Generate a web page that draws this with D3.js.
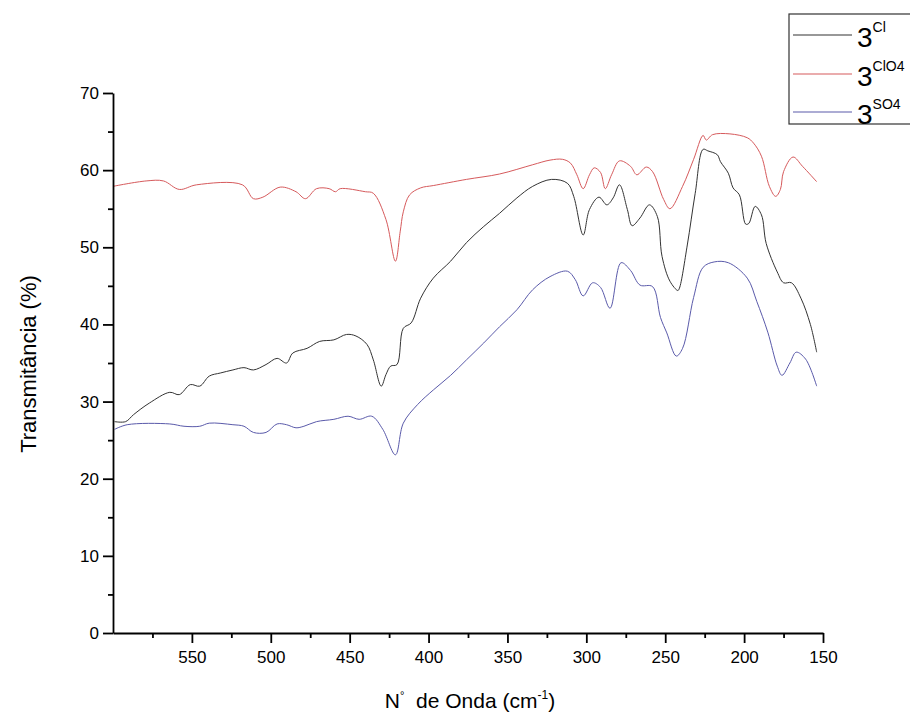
<!DOCTYPE html>
<html>
  <head>
    <meta charset="utf-8">
    <script src="https://d3js.org/d3.v7.min.js"></script>
    <title>Transmitancia</title>
    <style>
      html, body { margin: 0; padding: 0; background: #fff; }
      svg { display: block; font-family: "Liberation Sans", Arial, sans-serif; }
    </style>
  </head>
  <body>
    <svg id="chartSvg" width="910" height="720"></svg>
    <script>
      // series 3Cl (black)
      var clWave = [599,592,587,577,564,558,551,545,539,532,524,517,511,503,496,490,486,477,469,460,452,446,439,435,430,427,424,420,416,411,405,397,386,376,365,355,344,334,322,312,308,302,298,292,287,283,279,274,271,266,260,255,252,247,242,241,236,231,226,223,217,215,210,207,203,199,197,193,189,186,179,175,170,164,158,154];
      var clT    = [27.4,27.4,28.3,29.8,31.2,30.9,32.2,32.0,33.3,33.7,34.1,34.4,34.1,34.8,35.6,35.0,36.3,36.9,37.8,38.0,38.7,38.5,37.4,35.4,32.0,33.5,34.6,34.8,39.5,40.2,43.4,46.0,48.2,50.6,52.7,54.4,56.4,57.9,58.8,58.3,56.6,51.6,54.9,56.5,55.5,56.4,58.1,54.9,52.8,53.8,55.5,54.0,48.8,45.6,44.4,44.7,50.3,57.0,62.7,62.5,62.0,61.1,59.6,57.7,56.8,53.0,53.1,55.3,54.2,50.5,46.8,45.4,45.4,43.4,40.0,36.4];

      // series 3ClO4 (red)
      var clo4Wave = [600,579,568,558,547,518,511,505,494,484,478,471,463,459,456,440,435,427,421,418,416,412,405,397,376,355,334,323,315,310,306,302,298,295,291,288,284,279,272,268,262,258,251,247,239,232,226,224,220,209,198,194,189,184,180,177,175,169,163,154];
      var clo4T    = [57.9,58.6,58.6,57.5,58.1,58.1,56.3,56.5,57.8,57.2,56.3,57.6,57.6,57.2,57.6,57.2,57.0,53.6,48.2,52.0,54.6,56.8,57.7,58.0,58.8,59.5,60.7,61.3,61.4,60.9,59.4,57.6,59.4,60.3,59.7,57.6,59.4,61.2,60.5,59.4,60.4,59.8,56.2,55.0,57.9,61.4,64.5,63.9,64.6,64.7,64.2,63.5,61.8,57.9,56.6,57.5,59.8,61.7,60.5,58.5];

      // series 3SO4 (blue)
      var so4Wave = [599,591,564,555,545,539,524,517,511,503,496,490,484,479,471,460,451,444,436,429,421,416,407,397,386,376,365,355,344,334,323,312,307,302,296,291,285,278,272,266,258,253,249,243,239,232,226,219,210,198,192,185,179,176,171,167,161,154];
      var so4T    = [26.4,27.0,27.1,26.8,26.8,27.2,27.0,26.8,26.0,26.0,27.1,27.0,26.6,26.8,27.4,27.7,28.1,27.7,28.1,26.4,23.1,27.2,29.6,31.5,33.4,35.4,37.6,39.7,41.9,44.5,46.2,46.9,45.8,43.7,45.4,44.8,42.1,48.0,47.0,45.1,44.9,40.9,38.9,35.9,36.9,43.5,47.4,48.1,48.0,46.0,43.0,39.0,34.6,33.4,35.0,36.4,35.5,32.0];

      var seriesNames = ["Cl", "ClO4", "SO4"];
      var seriesColors = ["#333333", "#d65a5c", "#5a5aaa"];
      var xMajor = [550, 500, 450, 400, 350, 300, 250, 200, 150];
      var xMinor = [575, 525, 475, 425, 375, 325, 275, 225, 175];
      var yMajor = [0, 10, 20, 30, 40, 50, 60, 70];
      var yMinor = [5, 15, 25, 35, 45, 55, 65];

      var svg = d3.select("#chartSvg");

      var x = d3.scaleLinear().domain([600, 150]).range([113, 823]);
      var y = d3.scaleLinear().domain([0, 70]).range([633, 93]);

      function zip(w, t) {
        return w.map(function(d, i) { return {w: d, t: t[i]}; });
      }
      var series = [zip(clWave, clT), zip(clo4Wave, clo4T), zip(so4Wave, so4T)];

      var line = d3.line()
        .x(function(d) { return x(d.w); })
        .y(function(d) { return y(d.t); })
        .curve(d3.curveCatmullRom.alpha(0.5));

      svg.selectAll("path.serie")
        .data(series)
        .enter()
        .append("path")
        .attr("class", "serie")
        .attr("d", line)
        .style("fill", "none")
        .style("stroke", function(d, i) { return seriesColors[i]; })
        .style("stroke-width", 1);

      // axes
      svg.append("g").attr("transform", "translate(113,0)")
        .call(d3.axisLeft(y).tickValues(yMajor).tickSize(10).tickSizeOuter(0).tickPadding(4));
      svg.append("g").attr("transform", "translate(113,0)")
        .call(d3.axisLeft(y).tickValues(yMinor).tickSize(5).tickFormat(""))
        .select(".domain").remove();

      svg.append("g").attr("transform", "translate(0,633)")
        .call(d3.axisBottom(x).tickValues(xMajor).tickSize(10).tickSizeOuter(0).tickPadding(8));
      svg.append("g").attr("transform", "translate(0,633)")
        .call(d3.axisBottom(x).tickValues(xMinor).tickSize(5).tickFormat(""))
        .select(".domain").remove();

      svg.selectAll(".domain, .tick line")
        .style("stroke", "#000")
        .style("stroke-width", 1.8);
      svg.selectAll(".tick text")
        .style("font-size", "17px")
        .style("fill", "#000")
        .style("font-family", "'Liberation Sans', Arial, sans-serif");

      // axis titles
      var xt = svg.append("text")
        .attr("x", 470).attr("y", 708)
        .attr("text-anchor", "middle")
        .attr("xml:space", "preserve")
        .style("font-size", "21px");
      xt.append("tspan").text("N");
      xt.append("tspan").attr("dy", -9).style("font-size", "11px").text("°");
      xt.append("tspan").attr("dy", 9).text("  de Onda (cm");
      xt.append("tspan").attr("dy", -9).style("font-size", "12px").text("-1");
      xt.append("tspan").attr("dy", 9).text(")");

      svg.append("text")
        .attr("transform", "translate(36,364) rotate(-90)")
        .attr("text-anchor", "middle")
        .style("font-size", "22px")
        .text("Transmitância (%)");

      // legend
      var leg = svg.append("g");
      leg.append("rect")
        .attr("x", 789).attr("y", 14).attr("width", 140).attr("height", 110)
        .style("fill", "#fff").style("stroke", "#333").style("stroke-width", 1.2);
      var legY = [35, 74, 112];
      seriesNames.forEach(function(n, i) {
        leg.append("line")
          .attr("x1", 793).attr("x2", 852)
          .attr("y1", legY[i]).attr("y2", legY[i])
          .style("stroke", seriesColors[i]).style("stroke-width", 1.2);
        var t = leg.append("text")
          .attr("x", 857).attr("y", legY[i] + 12)
          .style("font-size", "28px");
        t.append("tspan").text("3");
        t.append("tspan").attr("dy", -15).style("font-size", "14px").text(n);
      });
    </script>
  </body>
</html>
